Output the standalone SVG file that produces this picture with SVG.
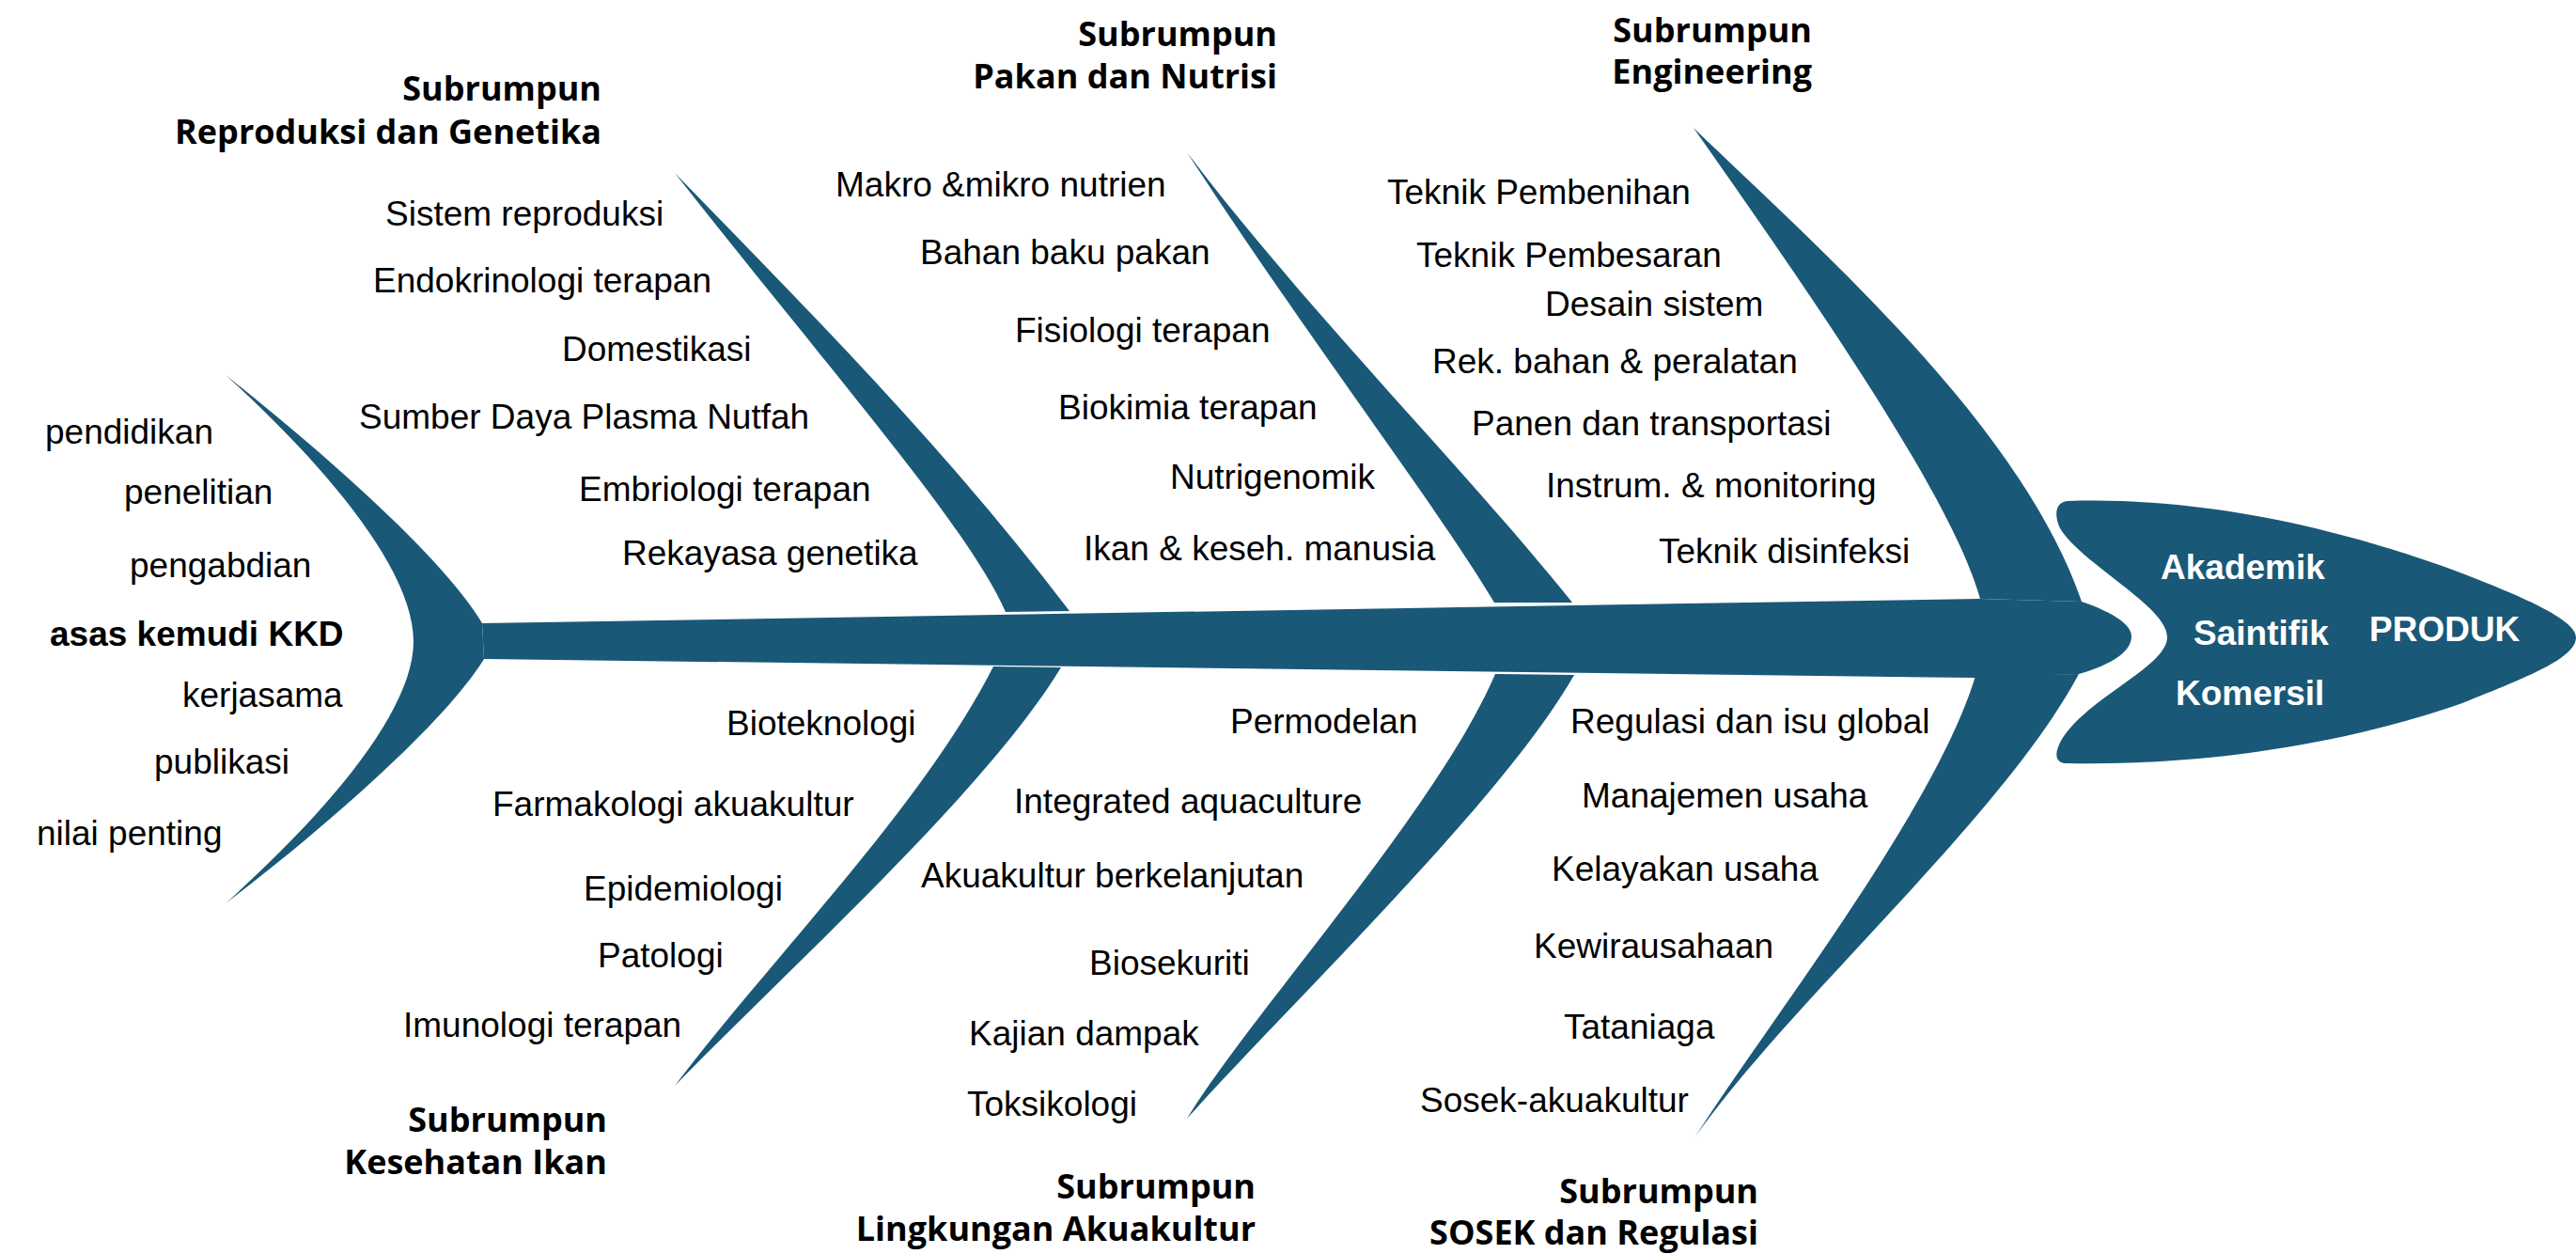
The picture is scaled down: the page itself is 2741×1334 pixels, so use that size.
<svg xmlns="http://www.w3.org/2000/svg" width="2741" height="1334" viewBox="0 0 2741 1334">
<style>
.fish{fill:#1a5878;stroke:none}
.it{font-family:"Liberation Sans",Arial,sans-serif;font-size:37px;fill:#000}
.b{font-weight:bold}
.hdr{font-family:"Open Sans","Noto Sans",sans-serif;font-weight:700;font-size:36px;fill:#000;text-anchor:end}
.wt{font-family:"Liberation Sans",Arial,sans-serif;font-weight:bold;font-size:37px;fill:#fff}
</style>
<rect width="2741" height="1334" fill="#fff"/>
<g id="connectors">
  <path id="spine" class="fish" d="M513,663 L2106,637 L2215,640 C2250,652 2268,665 2268,677 C2268,692 2250,706 2212,717 L2101,721 L515,701 Z"/>
  <path id="bone-up-1" class="fish" d="M718,184 C855,325 1005,475 1138,650 L1070,651 C1030,560 880,390 718,184 Z"/>
  <path id="bone-dn-1" class="fish" d="M1057,709 L1129,710 C1050,840 850,1020 718,1155 C820,1020 980,860 1057,709 Z"/>
  <path id="bone-up-2" class="fish" d="M1263,162 C1390,330 1560,500 1673,641 L1590,641 C1530,540 1385,350 1263,162 Z"/>
  <path id="bone-dn-2" class="fish" d="M1591,717 L1675,718 C1600,850 1380,1060 1263,1190 C1330,1080 1530,860 1591,717 Z"/>
  <path id="bone-up-3" class="fish" d="M1802,136 C1930,260 2150,450 2215,640 L2107,637 C2080,540 1960,360 1802,136 Z"/>
  <path id="bone-dn-3" class="fish" d="M2102,719 L2212,717 C2130,870 1910,1060 1804,1209 C1880,1090 2060,860 2102,719 Z"/>
</g>
<g id="tail">
  <path class="fish" d="M240,399 C330,470 470,590 513,663 L515,701 C470,774 330,893 240,961 C330,880 440,764 440,682 C440,600 330,480 240,399 Z"/>
  <text class="it" x="48" y="472">pendidikan</text>
  <text class="it" x="132" y="536">penelitian</text>
  <text class="it" x="138" y="614">pengabdian</text>
  <text class="it b" x="53" y="687">asas kemudi KKD</text>
  <text class="it" x="194" y="752">kerjasama</text>
  <text class="it" x="164" y="823">publikasi</text>
  <text class="it" x="39" y="899">nilai penting</text>
</g>
<g id="head">
  <path class="fish" d="M2200,533 C2350,528 2500,565 2620,610 C2690,637 2741,660 2741,678 C2741,700 2690,720 2620,748 C2500,790 2350,815 2200,812 C2185,812 2187,800 2192,790 C2215,745 2306,710 2306,678 C2306,645 2215,600 2192,562 C2186,550 2186,534 2200,533 Z"/>
  <text class="wt" x="2299" y="616">Akademik</text>
  <text class="wt" x="2334" y="686">Saintifik</text>
  <text class="wt" x="2315" y="750">Komersil</text>
  <text class="wt" x="2521" y="682" font-size="33">PRODUK</text>
</g>
<g id="reproduksi-genetika">
  <text class="hdr" x="640" y="107">Subrumpun</text>
  <text class="hdr" x="640" y="153">Reproduksi dan Genetika</text>
  <text class="it" x="410" y="240">Sistem reproduksi</text>
  <text class="it" x="397" y="311">Endokrinologi terapan</text>
  <text class="it" x="598" y="384">Domestikasi</text>
  <text class="it" x="382" y="456">Sumber Daya Plasma Nutfah</text>
  <text class="it" x="616" y="533">Embriologi terapan</text>
  <text class="it" x="662" y="601">Rekayasa genetika</text>
</g>
<g id="pakan-nutrisi">
  <text class="hdr" x="1359" y="49">Subrumpun</text>
  <text class="hdr" x="1359" y="94">Pakan dan Nutrisi</text>
  <text class="it" x="889" y="209">Makro &amp;mikro nutrien</text>
  <text class="it" x="979" y="281">Bahan baku pakan</text>
  <text class="it" x="1080" y="364">Fisiologi terapan</text>
  <text class="it" x="1126" y="446">Biokimia terapan</text>
  <text class="it" x="1245" y="520">Nutrigenomik</text>
  <text class="it" x="1153" y="596">Ikan &amp; keseh. manusia</text>
</g>
<g id="engineering">
  <text class="hdr" x="1928" y="45">Subrumpun</text>
  <text class="hdr" x="1928" y="89">Engineering</text>
  <text class="it" x="1476" y="217">Teknik Pembenihan</text>
  <text class="it" x="1507" y="284">Teknik Pembesaran</text>
  <text class="it" x="1644" y="336">Desain sistem</text>
  <text class="it" x="1524" y="397">Rek. bahan &amp; peralatan</text>
  <text class="it" x="1566" y="463">Panen dan transportasi</text>
  <text class="it" x="1645" y="529">Instrum. &amp; monitoring</text>
  <text class="it" x="1765" y="599">Teknik disinfeksi</text>
</g>
<g id="kesehatan-ikan">
  <text class="it" x="773" y="782">Bioteknologi</text>
  <text class="it" x="524" y="868">Farmakologi akuakultur</text>
  <text class="it" x="621" y="958">Epidemiologi</text>
  <text class="it" x="636" y="1029">Patologi</text>
  <text class="it" x="429" y="1103">Imunologi terapan</text>
  <text class="hdr" x="646" y="1204">Subrumpun</text>
  <text class="hdr" x="646" y="1249">Kesehatan Ikan</text>
</g>
<g id="lingkungan-akuakultur">
  <text class="it" x="1309" y="780">Permodelan</text>
  <text class="it" x="1079" y="865">Integrated aquaculture</text>
  <text class="it" x="980" y="944">Akuakultur berkelanjutan</text>
  <text class="it" x="1159" y="1037">Biosekuriti</text>
  <text class="it" x="1031" y="1112">Kajian dampak</text>
  <text class="it" x="1029" y="1187">Toksikologi</text>
  <text class="hdr" x="1336" y="1275">Subrumpun</text>
  <text class="hdr" x="1336" y="1320">Lingkungan Akuakultur</text>
</g>
<g id="sosek-regulasi">
  <text class="it" x="1671" y="780">Regulasi dan isu global</text>
  <text class="it" x="1683" y="859">Manajemen usaha</text>
  <text class="it" x="1651" y="937">Kelayakan usaha</text>
  <text class="it" x="1632" y="1019">Kewirausahaan</text>
  <text class="it" x="1664" y="1105">Tataniaga</text>
  <text class="it" x="1511" y="1183">Sosek-akuakultur</text>
  <text class="hdr" x="1871" y="1280">Subrumpun</text>
  <text class="hdr" x="1871" y="1324">SOSEK dan Regulasi</text>
</g>
</svg>
